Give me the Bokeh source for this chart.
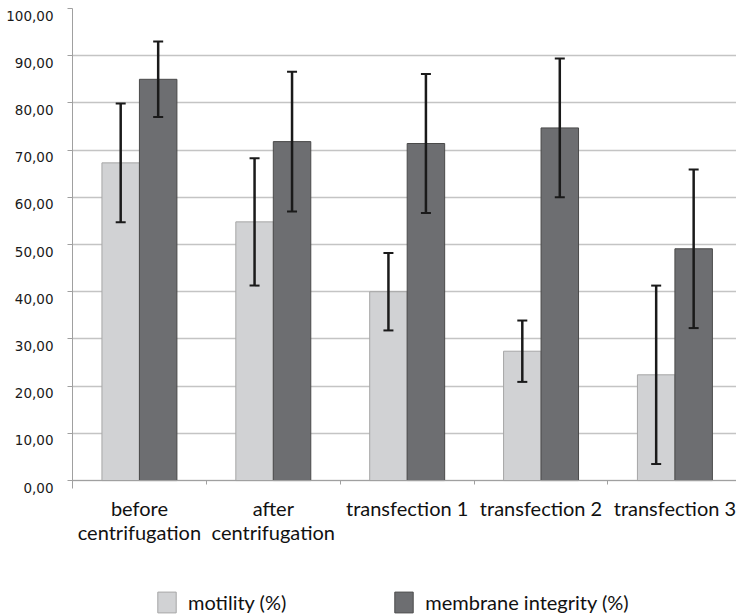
from bokeh.plotting import figure
from bokeh.models import (ColumnDataSource, Range1d, FixedTicker, Whisker, TeeHead,
                          Legend, LegendItem)
from bokeh.embed import file_html
from bokeh.resources import INLINE

# ---- data ----
categories = ["before\ncentrifugation", "after\ncentrifugation",
              "transfection 1", "transfection 2", "transfection 3"]
motility = [67.3, 54.8, 40.0, 27.4, 22.4]
motility_err = [12.6, 13.5, 8.2, 6.5, 18.9]
membrane = [85.0, 71.8, 71.4, 74.7, 49.1]
membrane_err = [8.0, 14.8, 14.7, 14.7, 16.8]
y_ticks = [0, 10, 20, 30, 40, 50, 60, 70, 80, 90, 100]
y_tick_labels = ["0,00", "10,00", "20,00", "30,00", "40,00", "50,00",
                 "60,00", "70,00", "80,00", "90,00", "100,00"]
series_names = ["motility (%)", "membrane integrity (%)"]

# ---- layout helpers ----
BAR_W = 0.28
LABEL_SHIFT = -1.5          # y labels sit slightly below their gridlines in the original
centers = [i + 0.5 for i in range(len(categories))]
boundaries = [float(i) for i in range(len(categories) + 1)]

src_m = ColumnDataSource(dict(
    x=[c - BAR_W / 2 for c in centers], top=motility,
    upper=[v + e for v, e in zip(motility, motility_err)],
    lower=[v - e for v, e in zip(motility, motility_err)]))
src_d = ColumnDataSource(dict(
    x=[c + BAR_W / 2 for c in centers], top=membrane,
    upper=[v + e for v, e in zip(membrane, membrane_err)],
    lower=[v - e for v, e in zip(membrane, membrane_err)]))

p = figure(width=736, height=616, x_range=Range1d(0, 4.96), y_range=Range1d(-28.8, 100),
           output_backend="svg", toolbar_location=None,
           min_border_left=72, min_border_right=0, min_border_top=8, min_border_bottom=0)
p.outline_line_color = None
p.background_fill_color = "white"
p.border_fill_color = "white"

# grid
p.xgrid.visible = False
p.ygrid.ticker = FixedTicker(ticks=y_ticks)
p.ygrid.grid_line_color = "#c4c4c4"
p.ygrid.grid_line_width = 1.6

# y axis: gridline ticks as minor ticks, labels slightly below
label_pos = [t + LABEL_SHIFT for t in y_ticks]
p.yaxis.ticker = FixedTicker(ticks=label_pos, minor_ticks=y_ticks)
p.yaxis.major_label_overrides = {t: lab for t, lab in zip(label_pos, y_tick_labels)}
p.yaxis.bounds = (min(label_pos) - 0.1, max(y_ticks))
p.yaxis.axis_line_color = "#a0a0a0"
p.yaxis.major_tick_line_color = None
p.yaxis.major_tick_out = 5
p.yaxis.major_tick_in = 0
p.yaxis.minor_tick_line_color = "#a0a0a0"
p.yaxis.minor_tick_out = 5
p.yaxis.minor_tick_in = 0
p.yaxis.major_label_standoff = 14
p.yaxis.major_label_text_font = "DejaVu Sans"
p.yaxis.major_label_text_font_size = "13.5px"
p.yaxis.major_label_text_color = "#1a1a1a"

# x axis, fixed at y = 0
p.xaxis.fixed_location = 0
p.xaxis.ticker = FixedTicker(ticks=centers, minor_ticks=boundaries)
p.xaxis.major_label_overrides = {c: lab for c, lab in zip(centers, categories)}
p.xaxis.axis_line_color = "#a0a0a0"
p.xaxis.major_tick_line_color = None
p.xaxis.major_tick_out = 0
p.xaxis.major_tick_in = 0
p.xaxis.minor_tick_line_color = "#a0a0a0"
p.xaxis.minor_tick_out = 4
p.xaxis.minor_tick_in = 0
p.xaxis.major_label_standoff = 11
p.xaxis.major_label_text_font = "Lato"
p.xaxis.major_label_text_font_size = "20px"
p.xaxis.major_label_text_line_height = 1.0
p.xaxis.major_label_text_color = "#111111"

# bars
r1 = p.vbar(x="x", top="top", bottom=0, width=BAR_W, source=src_m,
            fill_color="#d1d2d4", line_color="#a6a6a6", line_width=1)
r2 = p.vbar(x="x", top="top", bottom=0, width=BAR_W, source=src_d,
            fill_color="#6d6e71", line_color="#4a4a4a", line_width=1)

# error bars (drawn above the bars)
for src in (src_m, src_d):
    w = Whisker(base="x", upper="upper", lower="lower", source=src, level="overlay",
                line_color="#1a1a1a", line_width=2.5,
                upper_head=TeeHead(size=10, line_width=2, line_color="#1a1a1a"),
                lower_head=TeeHead(size=10, line_width=2, line_color="#1a1a1a"))
    p.add_layout(w)

legend = Legend(items=[LegendItem(label=series_names[0], renderers=[r1]),
                       LegendItem(label=series_names[1], renderers=[r2])],
                orientation="horizontal", location=(83, 1),
                glyph_width=23, glyph_height=26, label_standoff=10, spacing=106,
                padding=0, margin=0, border_line_color=None, background_fill_alpha=0,
                label_text_font="Lato", label_text_font_size="20px",
                label_text_color="#111111")
p.add_layout(legend, "center")

open("out.html", "w").write(file_html(p, INLINE))
